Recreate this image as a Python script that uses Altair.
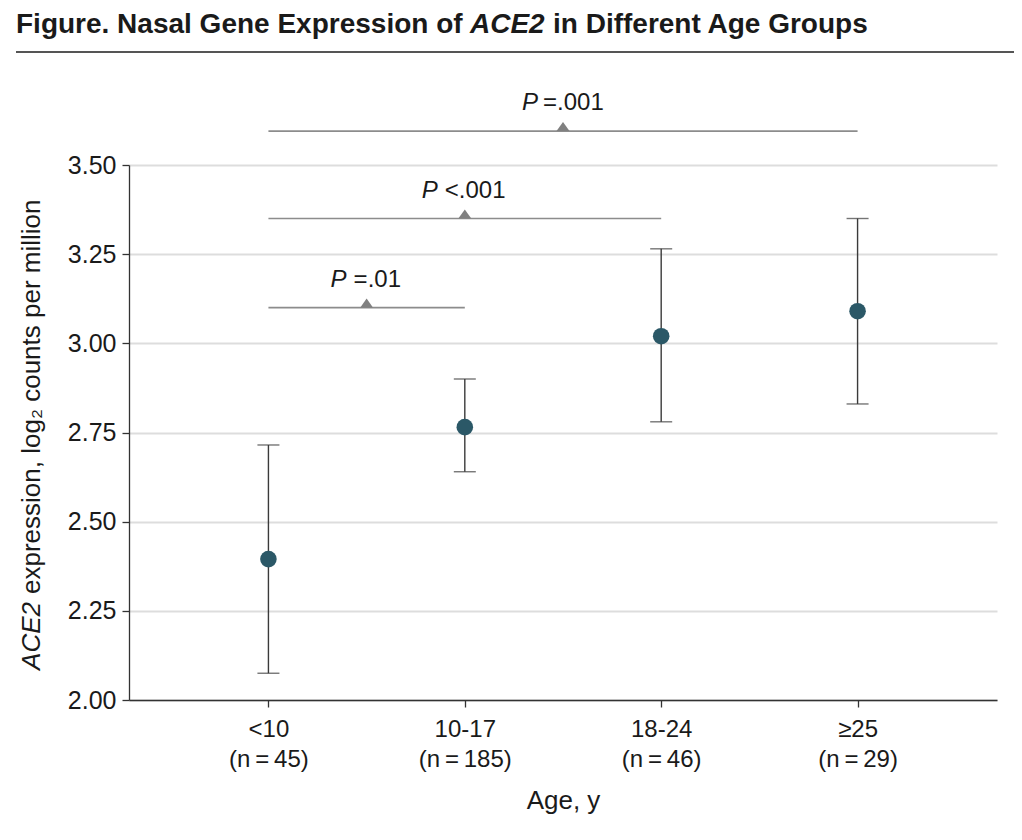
import altair as alt
import pandas as pd

# ---- data ----
groups = ["<10", "10-17", "18-24", "≥25"]
group_n = [45, 185, 46, 29]
group_pos = [1, 2, 3, 4]
mean_expr = [2.395, 2.765, 3.02, 3.09]
ci_low = [2.075, 2.64, 2.78, 2.83]
ci_high = [2.715, 2.90, 3.265, 3.35]

cmp_from = [1, 1, 1]
cmp_to = [2, 3, 4]
cmp_level = [3.10, 3.35, 3.595]
cmp_p = ["=.01", "<.001", "=.001"]

y_ticks = [2.00, 2.25, 2.50, 2.75, 3.00, 3.25, 3.50]

title_parts = ["Figure. Nasal Gene Expression of", "ACE2", "in Different Age Groups"]
ytitle_parts = ["ACE2", "expression, log\u2082 counts per million"]
xtitle = "Age, y"

# ---- tables ----
df = pd.DataFrame({"group": groups, "n": group_n, "pos": group_pos,
                   "mean": mean_expr, "low": ci_low, "high": ci_high})
df_cmp = pd.DataFrame({"from": cmp_from, "to": cmp_to, "level": cmp_level, "p": cmp_p})

F_REG = "Liberation Sans"
INK = "#1a1a1a"

label_expr = " : ".join(
    f"datum.value == {p} ? ['{g}', '(n\u2009=\u2009{n})']" for p, g, n in zip(group_pos, groups, group_n)
) + " : ''"

xscale = alt.Scale(domain=[0.29, 4.71], nice=False, zero=False)
yscale = alt.Scale(domain=[2.0, 3.5], nice=False, zero=False)

x_axis = alt.Axis(values=group_pos, labelExpr=label_expr, grid=False, tickSize=7,
                  tickColor="#333333", tickWidth=1.3, domainColor="#333333", domainWidth=1.3,
                  labelFont=F_REG, labelFontSize=24, labelColor=INK, labelPadding=10,
                  labelLineHeight=30, labelFlush=False, labelOverlap=False,
                  title=xtitle, titleFont=F_REG, titleFontSize=26, titleFontWeight="normal",
                  titleColor=INK, titlePadding=16)
y_axis = alt.Axis(values=y_ticks, format=".2f", grid=True, gridColor="#dddddd", gridWidth=2,
                  tickSize=7, tickColor="#333333", tickWidth=1.3, domainColor="#333333",
                  domainWidth=1.3, labelFont=F_REG, labelFontSize=25, labelColor=INK,
                  labelPadding=6, title=None)


def X(field):
    return alt.X(field, scale=xscale, axis=x_axis)


def Y(field):
    return alt.Y(field, scale=yscale, axis=y_axis)


base = alt.Chart(df)

bars = base.mark_rule(color="#3a3a3a", strokeWidth=1.4).encode(
    x=X("pos:Q"), y=Y("low:Q"), y2="high:Q")
cap_lo = base.mark_tick(orient="horizontal", size=22, thickness=1.4, color="#3a3a3a").encode(
    x=X("pos:Q"), y=Y("low:Q"))
cap_hi = base.mark_tick(orient="horizontal", size=22, thickness=1.4, color="#3a3a3a").encode(
    x=X("pos:Q"), y=Y("high:Q"))
points = base.mark_circle(size=275, color="#2b5867", opacity=1).encode(
    x=X("pos:Q"), y=Y("mean:Q"))

cmp_base = alt.Chart(df_cmp).transform_calculate(mid="(datum['from'] + datum['to']) / 2")
brackets = cmp_base.mark_rule(color="#8c8c8c", strokeWidth=1.6).encode(
    x=X("from:Q"), x2="to:Q", y=Y("level:Q"))
tri = cmp_base.mark_point(shape="M-1,0L1,0L0,-1.4Z", filled=True, size=169,
                          color="#808080", opacity=1).encode(
    x=X("mid:Q"), y=Y("level:Q"))

p_dx = [-20, -27, -25]
rest_dx = [-13, -20, -20]
plabels = []
for i in range(len(cmp_p)):
    cb = alt.Chart(df_cmp.iloc[[i]]).transform_calculate(mid="(datum['from'] + datum['to']) / 2")
    plabels.append(cb.mark_text(text="P", font=F_REG, fontSize=24, fontStyle="italic",
                                align="right", baseline="alphabetic", dx=p_dx[i], dy=-21,
                                color=INK).encode(x=X("mid:Q"), y=Y("level:Q")))
    plabels.append(cb.mark_text(font=F_REG, fontSize=24, align="left", baseline="alphabetic",
                                dx=rest_dx[i], dy=-21, color=INK).encode(
        x=X("mid:Q"), y=Y("level:Q"), text="p:N"))

one = alt.Chart(alt.Data(values=[{}]))
# figure title (plot origin is at 129,165 on the page)
TS = 28
t1 = one.mark_text(font=F_REG, fontSize=TS, fontWeight="bold", align="left",
                   baseline="alphabetic", color=INK).encode(
    x=alt.value(-113), y=alt.value(-132), text=alt.value(title_parts[0]))
t2 = one.mark_text(font=F_REG, fontSize=TS, fontWeight="bold", fontStyle="italic",
                   align="left", baseline="alphabetic", color=INK).encode(
    x=alt.value(341), y=alt.value(-132), text=alt.value(title_parts[1]))
t3 = one.mark_text(font=F_REG, fontSize=TS, fontWeight="bold", align="left",
                   baseline="alphabetic", color=INK).encode(
    x=alt.value(424), y=alt.value(-132), text=alt.value(title_parts[2]))
trule = one.mark_rule(color="#555555", strokeWidth=2).encode(
    x=alt.value(-113), x2=alt.value(890), y=alt.value(-113))

# y-axis title with italic gene name (rotated, reading upward)
yt1 = one.mark_text(font=F_REG, fontSize=26, fontStyle="italic", angle=270, align="right",
                    baseline="alphabetic", color=INK).encode(
    x=alt.value(-89), y=alt.value(437), text=alt.value(ytitle_parts[0]))
yt2 = one.mark_text(font=F_REG, fontSize=26, angle=270, align="left",
                    baseline="alphabetic", color=INK).encode(
    x=alt.value(-89), y=alt.value(429), text=alt.value(ytitle_parts[1]))

chart = alt.layer(bars, cap_lo, cap_hi, points, brackets, tri, *plabels,
                  t1, t2, t3, trule, yt1, yt2).properties(
    width=868, height=535, autosize="none",
    padding={"left": 121, "top": 157, "right": 17, "bottom": 132},
    background="white",
).configure_view(stroke=None)

chart.save("out.html", embed_options={"renderer": "svg", "actions": False})
